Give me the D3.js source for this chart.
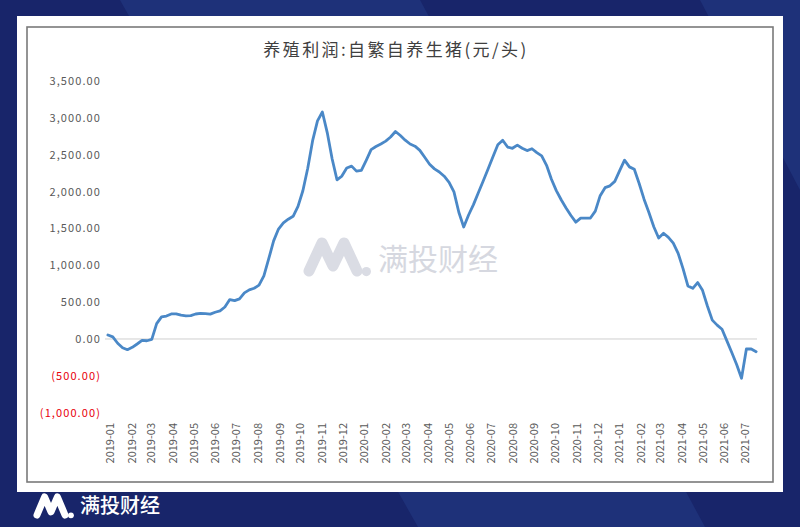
<!DOCTYPE html>
<html><head><meta charset="utf-8">
<script src="https://cdn.jsdelivr.net/npm/d3@7"></script>
<style>html,body{margin:0;padding:0;background:#19266a;} svg{display:block}</style>
</head><body>
<svg id="c" width="800" height="527"></svg>
<script>
const title = "养殖利润:自繁自养生猪(元/头)";
const brand = "满投财经";
const weeks = [
"2018-12-29",
"2019-01-05","2019-01-12","2019-01-19","2019-01-26","2019-02-02","2019-02-09","2019-02-16","2019-02-23","2019-03-02","2019-03-09",
"2019-03-16","2019-03-23","2019-03-30","2019-04-06","2019-04-13","2019-04-20","2019-04-27","2019-05-04","2019-05-11","2019-05-18",
"2019-05-25","2019-06-01","2019-06-08","2019-06-15","2019-06-22","2019-06-29","2019-07-06","2019-07-13","2019-07-20","2019-07-27",
"2019-08-03","2019-08-10","2019-08-17","2019-08-24","2019-08-31","2019-09-07","2019-09-14","2019-09-21","2019-09-28","2019-10-05",
"2019-10-12","2019-10-19","2019-10-26","2019-11-02","2019-11-09","2019-11-16","2019-11-23","2019-11-30","2019-12-07","2019-12-14",
"2019-12-21","2019-12-28",
"2020-01-04","2020-01-11","2020-01-18","2020-01-25","2020-02-01","2020-02-08","2020-02-15","2020-02-22","2020-02-29","2020-03-07",
"2020-03-14","2020-03-21","2020-03-28","2020-04-04","2020-04-11","2020-04-18","2020-04-25","2020-05-02","2020-05-09","2020-05-16",
"2020-05-23","2020-05-30","2020-06-06","2020-06-13","2020-06-20","2020-06-27","2020-07-04","2020-07-11","2020-07-18","2020-07-25",
"2020-08-01","2020-08-08","2020-08-15","2020-08-22","2020-08-29","2020-09-05","2020-09-12","2020-09-19","2020-09-26","2020-10-03",
"2020-10-10","2020-10-17","2020-10-24","2020-10-31","2020-11-07","2020-11-14","2020-11-21","2020-11-28","2020-12-05","2020-12-12",
"2020-12-19","2020-12-26",
"2021-01-02","2021-01-09","2021-01-16","2021-01-23","2021-01-30","2021-02-06","2021-02-13","2021-02-20","2021-02-27","2021-03-06",
"2021-03-13","2021-03-20","2021-03-27","2021-04-03","2021-04-10","2021-04-17","2021-04-24","2021-05-01","2021-05-08","2021-05-15",
"2021-05-22","2021-05-29","2021-06-05","2021-06-12","2021-06-19","2021-06-26","2021-07-03","2021-07-10","2021-07-17"
];
const profit = [
54,
28,-58,-118,-145,-113,-68,-20,-24,-5,208,
300,311,340,341,323,314,318,339,348,345,
337,363,381,434,535,520,545,625,666,688,
730,856,1089,1331,1491,1575,1625,1665,1800,2011,
2316,2690,2960,3080,2800,2446,2160,2210,2320,2345,
2277,2288,
2424,2568,2611,2645,2684,2740,2815,2760,2697,2645,
2616,2559,2466,2370,2308,2266,2208,2126,1995,1720,
1520,1682,1823,1984,2144,2307,2473,2635,2697,2604,
2587,2630,2588,2556,2581,2528,2485,2356,2168,2013,
1889,1778,1675,1585,1639,1639,1641,1735,1944,2053,
2078,2138,
2284,2426,2335,2302,2109,1897,1715,1523,1370,1435,
1379,1301,1162,955,720,687,765,660,448,256,
188,132,-25,-184,-347,-533,-135,-136,-172
];
const yTicks = [-1000,-500,0,500,1000,1500,2000,2500,3000,3500];
const monthLabels = [
"2019-01","2019-02","2019-03","2019-04","2019-05","2019-06","2019-07","2019-08","2019-09","2019-10","2019-11","2019-12",
"2020-01","2020-02","2020-03","2020-04","2020-05","2020-06","2020-07","2020-08","2020-09","2020-10","2020-11","2020-12",
"2021-01","2021-02","2021-03","2021-04","2021-05","2021-06","2021-07"
];

const svg = d3.select("#c");
const parseDay = d3.timeParse("%Y-%m-%d");
const parseMonth = d3.timeParse("%Y-%m");
const data = weeks.map((w,i)=>({date:parseDay(w), v:profit[i]}));

// background
svg.append("rect").attr("width",800).attr("height",527).attr("fill","#18256a");
svg.append("polygon").attr("points","120,0 420,0 705,527 418,527").attr("fill","#1e3179");
svg.append("polygon").attr("points","700,0 800,0 800,190").attr("fill","#1e3179");

// card
svg.append("rect").attr("x",17).attr("y",16).attr("width",766).attr("height",476).attr("fill","#ffffff");
svg.append("rect").attr("x",27).attr("y",27).attr("width",746).attr("height",455)
  .attr("fill","#ffffff").attr("stroke","#7a7a7a").attr("stroke-width",1.6);

const font = "'Noto Sans CJK SC','Noto Sans',sans-serif";

// title
svg.append("text").attr("x",396).attr("y",56).attr("text-anchor","middle")
  .attr("font-family",font).attr("font-size",17).attr("letter-spacing","2.4px")
  .attr("fill","#404040").text(title);

// scales
const x = d3.scaleTime().domain([parseMonth("2019-01"), parseMonth("2021-07")]).range([110,745]);
const y = d3.scaleLinear().domain([-1000,3500]).range([412.7,81]);

// watermark
function logo(g, w, h, sw, color){
  const pts = [[0,h],[w*0.27,0],[w*0.5,h*0.82],[w*0.73,0],[w,h]];
  g.append("path").attr("d", d3.line()(pts)).attr("fill","none").attr("stroke",color)
   .attr("stroke-width",sw).attr("stroke-linejoin","round").attr("stroke-linecap","round");
  g.append("circle").attr("cx",w+sw*0.85).attr("cy",h+sw*0.05).attr("r",sw*0.42).attr("fill",color);
}
const wm = svg.append("g").attr("transform","translate(309,243)");
logo(wm, 48, 28, 11, "#dadce4");
svg.append("text").attr("x",378).attr("y",270).attr("font-family",font).attr("font-size",30)
  .attr("fill","#d6d8e0").text(brand);

// zero line
svg.append("line").attr("x1",105).attr("x2",757).attr("y1",y(0)).attr("y2",y(0))
  .attr("stroke","#cfcfcf").attr("stroke-width",1);

// y axis
const fmt = d3.format(",.2f");
const yAxis = svg.append("g").attr("transform","translate(101,0)")
  .call(d3.axisLeft(y).tickValues(yTicks).tickSize(0).tickPadding(0)
    .tickFormat(d => d < 0 ? "(" + fmt(-d) + ")" : fmt(d)));
yAxis.select(".domain").remove();
yAxis.selectAll("text").attr("font-family",font).attr("font-size",11).attr("letter-spacing","1.1px")
  .attr("fill", d => d < 0 ? "#e8000b" : "#595959");

// x axis labels
const xAxis = svg.append("g").attr("transform","translate(0,423)")
  .call(d3.axisBottom(x).tickValues(monthLabels.map(parseMonth)).tickSize(0)
    .tickFormat(d3.timeFormat("%Y-%m")));
xAxis.select(".domain").remove();
xAxis.selectAll("text").attr("transform","rotate(-90)").attr("x",0).attr("y",0).attr("dy","0.35em")
  .attr("text-anchor","end").attr("font-family",font).attr("font-size",11).attr("fill","#595959");

// line
svg.append("path").datum(data)
  .attr("d", d3.line().x(d=>x(d.date)).y(d=>y(d.v)))
  .attr("fill","none").attr("stroke","#4a88c7").attr("stroke-width",2.8)
  .attr("stroke-linejoin","round").attr("stroke-linecap","round");

// bottom brand
const bl = svg.append("g").attr("transform","translate(37,497)");
logo(bl, 28, 18, 7, "#ffffff");
svg.append("text").attr("x",80).attr("y",513).attr("font-family",font).attr("font-size",20)
  .attr("font-weight",500).attr("fill","#ffffff").text(brand);
</script>
</body></html>
